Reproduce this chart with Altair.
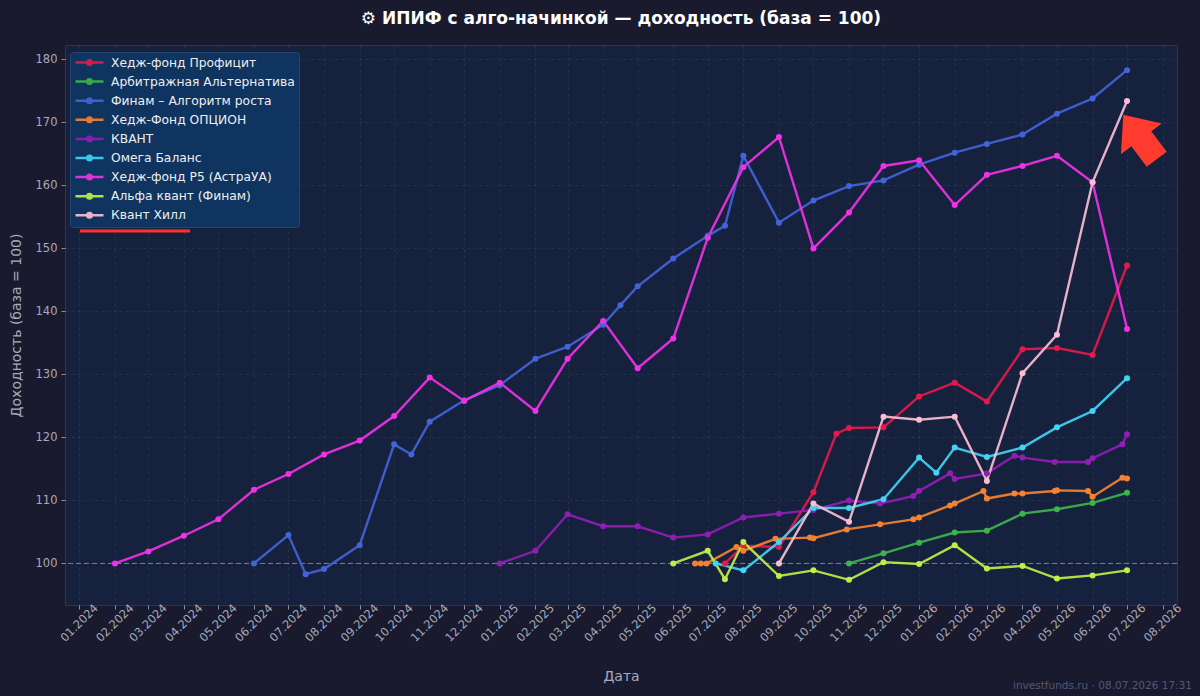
import altair as alt
import pandas as pd

series_names = [
    "Хедж-фонд Профицит",
    "Арбитражная Альтернатива",
    "Финам – Алгоритм роста",
    "Хедж-Фонд ОПЦИОН",
    "КВАНТ",
    "Омега Баланс",
    "Хедж-фонд Р5 (АстраУА)",
    "Альфа квант (Финам)",
    "Квант Хилл",
]
series_colors = ["#e6194b", "#3cb44b", "#4363d8", "#f58231", "#911eb4",
                 "#42d4f4", "#f032e6", "#bfef45", "#fabed4"]

profit_dates = ["2025-07-16", "2025-08-01", "2025-09-01", "2025-10-01", "2025-10-21",
                "2025-11-01", "2025-12-01", "2026-01-01", "2026-02-01", "2026-03-01",
                "2026-04-01", "2026-05-01", "2026-06-01", "2026-07-01"]
profit_values = [100.0, 102.8, 102.6, 111.3, 120.6, 121.5, 121.6, 126.5, 128.7, 125.7,
                 134.0, 134.2, 133.1, 147.3]

arb_dates = ["2025-11-01", "2025-12-01", "2026-01-01", "2026-02-01", "2026-03-01",
             "2026-04-01", "2026-05-01", "2026-06-01", "2026-07-01"]
arb_values = [100.0, 101.6, 103.3, 104.9, 105.2, 107.9, 108.6, 109.6, 111.2]

finam_dates = ["2024-06-01", "2024-07-01", "2024-07-16", "2024-08-01", "2024-09-01",
               "2024-10-01", "2024-10-16", "2024-11-01", "2024-12-01", "2025-01-01",
               "2025-02-01", "2025-03-01", "2025-04-01", "2025-04-16", "2025-05-01",
               "2025-06-01", "2025-07-01", "2025-07-16", "2025-08-01", "2025-09-01",
               "2025-10-01", "2025-11-01", "2025-12-01", "2026-01-01", "2026-02-01",
               "2026-03-01", "2026-04-01", "2026-05-01", "2026-06-01", "2026-07-01"]
finam_values = [100.0, 104.5, 98.3, 99.1, 102.9, 118.9, 117.3, 122.5, 125.9, 128.3,
                132.5, 134.4, 137.9, 141.0, 144.0, 148.4, 152.0, 153.6, 164.7, 154.1,
                157.6, 159.9, 160.8, 163.3, 165.2, 166.6, 168.1, 171.4, 173.8, 178.3]

option_dates = ["2025-06-20", "2025-06-25", "2025-06-30", "2025-07-26", "2025-08-01",
                "2025-08-29", "2025-09-28", "2025-10-01", "2025-10-30", "2025-11-28",
                "2025-12-27", "2026-01-01", "2026-01-28", "2026-02-01", "2026-02-26",
                "2026-03-01", "2026-03-25", "2026-04-01", "2026-04-29", "2026-05-01",
                "2026-05-28", "2026-06-01", "2026-06-27", "2026-07-01"]
option_values = [100.0, 100.0, 100.0, 102.6, 102.0, 103.9, 104.1, 104.0, 105.4, 106.2,
                 107.0, 107.3, 109.2, 109.5, 111.5, 110.3, 111.1, 111.1, 111.5, 111.6,
                 111.5, 110.6, 113.6, 113.5]

kvant_dates = ["2025-01-01", "2025-02-01", "2025-03-01", "2025-04-01", "2025-05-01",
               "2025-06-01", "2025-07-01", "2025-08-01", "2025-09-01", "2025-10-01",
               "2025-11-01", "2025-11-28", "2025-12-27", "2026-01-01", "2026-01-28",
               "2026-02-01", "2026-03-01", "2026-03-25", "2026-04-01", "2026-04-29",
               "2026-05-28", "2026-06-01", "2026-06-27", "2026-07-01"]
kvant_values = [100.0, 102.0, 107.8, 105.9, 105.9, 104.1, 104.6, 107.3, 107.9, 108.5,
                110.0, 109.5, 110.7, 111.5, 114.3, 113.4, 114.3, 117.1, 116.8, 116.1,
                116.1, 116.7, 118.9, 120.5]

omega_dates = ["2025-07-08", "2025-08-01", "2025-09-01", "2025-10-01", "2025-11-01",
               "2025-12-01", "2026-01-01", "2026-01-16", "2026-02-01", "2026-03-01",
               "2026-04-01", "2026-05-01", "2026-06-01", "2026-07-01"]
omega_values = [100.0, 98.9, 103.4, 108.8, 108.8, 110.2, 116.8, 114.4, 118.4, 116.9,
                118.4, 121.6, 124.2, 129.4]

r5_dates = ["2024-02-01", "2024-03-01", "2024-04-01", "2024-05-01", "2024-06-01",
            "2024-07-01", "2024-08-01", "2024-09-01", "2024-10-01", "2024-11-01",
            "2024-12-01", "2025-01-01", "2025-02-01", "2025-03-01", "2025-04-01",
            "2025-05-01", "2025-06-01", "2025-07-01", "2025-08-01", "2025-09-01",
            "2025-10-01", "2025-11-01", "2025-12-01", "2026-01-01", "2026-02-01",
            "2026-03-01", "2026-04-01", "2026-05-01", "2026-06-01", "2026-07-01"]
r5_values = [100.0, 101.9, 104.4, 107.0, 111.7, 114.2, 117.3, 119.5, 123.4, 129.5,
             125.8, 128.7, 124.2, 132.5, 138.5, 131.0, 135.7, 151.7, 162.9, 167.7,
             150.0, 155.7, 163.1, 164.0, 156.9, 161.7, 163.1, 164.7, 160.5, 137.2]

alpha_dates = ["2025-06-01", "2025-07-01", "2025-07-16", "2025-08-01", "2025-09-01",
               "2025-10-01", "2025-11-01", "2025-12-01", "2026-01-01", "2026-02-01",
               "2026-03-01", "2026-04-01", "2026-05-01", "2026-06-01", "2026-07-01"]
alpha_values = [100.0, 102.0, 97.5, 103.4, 98.0, 98.9, 97.4, 100.2, 99.9, 102.9,
                99.2, 99.6, 97.6, 98.1, 98.9]

hill_dates = ["2025-09-01", "2025-10-01", "2025-11-01", "2025-12-01", "2026-01-01",
              "2026-02-01", "2026-03-01", "2026-04-01", "2026-05-01", "2026-06-01",
              "2026-07-01"]
hill_values = [100.0, 109.5, 106.6, 123.3, 122.8, 123.3, 113.1, 130.2, 136.3, 160.5, 173.4]

tick_labels_months = [(2024, m) for m in range(1, 13)] + [(2025, m) for m in range(1, 13)] + \
                     [(2026, m) for m in range(1, 9)]
y_ticks = [100, 110, 120, 130, 140, 150, 160, 170, 180]

title_text = "⚙ ИПИФ с алго-начинкой — доходность (база = 100)"
watermark_text = "investfunds.ru · 08.07.2026 17:31"

all_dates = [profit_dates, arb_dates, finam_dates, option_dates, kvant_dates,
             omega_dates, r5_dates, alpha_dates, hill_dates]
all_values = [profit_values, arb_values, finam_values, option_values, kvant_values,
              omega_values, r5_values, alpha_values, hill_values]

rows = []
for i, (name, ds, vs) in enumerate(zip(series_names, all_dates, all_values)):
    for d, v in zip(ds, vs):
        rows.append({"fund": name, "date": d, "value": v, "k": i})
df = pd.DataFrame(rows)

FONT = "DejaVu Sans"
x_scale = alt.Scale(type="utc", domain=[
    alt.DateTime(year=2023, month=12, date=19, hours=12, utc=True),
    alt.DateTime(year=2026, month=8, date=13, hours=12, utc=True)])
y_scale = alt.Scale(domain=[93.4, 182.3], nice=False, zero=False)
tick_values = [alt.DateTime(year=y, month=m, date=1, utc=True) for (y, m) in tick_labels_months]

legend_path = ("M-2.8,0 L2.8,0 M-0.45,0 A0.45,0.45 0 1,0 0.45,0 "
               "A0.45,0.45 0 1,0 -0.45,0")

lines = alt.Chart(df).mark_line(
    strokeWidth=2.4, opacity=0.92,
    point=alt.OverlayMarkDef(size=36, filled=True, opacity=1)
).encode(
    x=alt.X("date:T", scale=x_scale, title="Дата",
            axis=alt.Axis(values=tick_values, format="%m.%Y", labelAngle=315,
                          labelAlign="center", labelBaseline="middle",
                          labelOverlap=False, labelFontSize=11.5,
                          labelPadding=14, titlePadding=26, grid=True)),
    y=alt.Y("value:Q", scale=y_scale, title="Доходность (база = 100)",
            axis=alt.Axis(values=y_ticks, grid=True, labelPadding=4, titlePadding=12,
                          labelFontSize=11.5)),
    color=alt.Color("fund:N", scale=alt.Scale(domain=series_names, range=series_colors),
                    legend=alt.Legend(title=None, orient="none", legendX=5, legendY=7,
                                      fillColor="#0f3460", strokeColor="#26446f",
                                      cornerRadius=3, padding=4,
                                      labelColor="#eeeeee", labelFont=FONT,
                                      labelFontSize=12.3, labelLimit=400,
                                      symbolType=legend_path, symbolSize=100,
                                      symbolStrokeWidth=2.5, symbolOffset=9,
                                      labelOffset=15, rowPadding=4.1)),
    detail="k:N",
)

ref = alt.Chart(pd.DataFrame({"base": [100]})).mark_rule(
    strokeDash=[5, 3], color="#b8bccc", opacity=0.6, strokeWidth=1
).encode(y=alt.Y("base:Q", scale=y_scale))

one = pd.DataFrame({"a": [0]})
underline = alt.Chart(one).mark_rule(color="#ff3030", strokeWidth=3).encode(
    x=alt.value(15), x2=alt.value(125), y=alt.value(186))

arrow_path = ("M0,-1 L0.92,0.08 L0.45,0.08 L0.45,1 L-0.45,1 L-0.45,0.08 "
              "L-0.92,0.08 Z")
arrow = alt.Chart(one).mark_point(
    shape=arrow_path, size=3080, filled=True, color="#ff3a2f", opacity=1,
    angle=323, strokeWidth=0
).encode(x=alt.value(1140 - 65), y=alt.value(137 - 45))

watermark = alt.Chart(one).mark_text(
    text=watermark_text, align="right", baseline="middle", fontSize=10.5,
    font=FONT, color="#525878"
).encode(x=alt.value(1192 - 65), y=alt.value(686 - 45))

chart = alt.layer(ref, lines, underline, arrow, watermark).properties(
    width=1112, height=560,
    title=alt.Title(text=title_text, font=FONT, fontSize=17, fontWeight="bold",
                    color="#ffffff", anchor="middle", offset=17),
    background="#1a1a2e",
    padding={"left": 65, "top": 45, "right": 23, "bottom": 91},
    autosize=alt.AutoSizeParams(type="none"),
).configure_view(
    fill="#16213e", stroke="#2a3558", strokeWidth=1
).configure_axis(
    labelColor="#a6aabd", titleColor="#a6aabd", tickColor="#8a8fa8",
    domain=False, gridColor="#ffffff", gridOpacity=0.07, gridDash=[3, 3],
    labelFont=FONT, titleFont=FONT, labelFontSize=11, titleFontSize=14,
    titleFontWeight="normal", tickSize=4
)

chart.save("out.html", embed_options={"renderer": "svg", "actions": False})
